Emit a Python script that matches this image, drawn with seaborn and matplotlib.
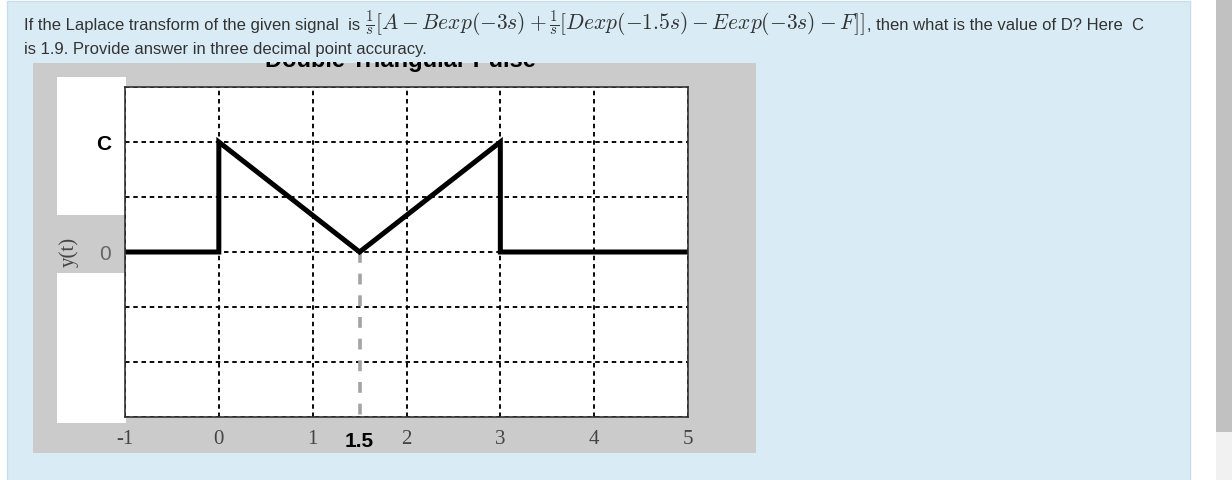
import numpy as np
import matplotlib
matplotlib.use('Agg')
import matplotlib.pyplot as plt
from matplotlib.patches import Rectangle
import seaborn as sns

# Data ------------------------------------------------------------------------------------------------------------
C = 1.9
t_points = [-1, 0, 0, 1.5, 3, 3, 5]
y_points = [0, 0, C, 0, C, 0, 0]
x_ticks = [-1, 0, 1, 2, 3, 4, 5]
y_ticks = [-1.5 * C, -C, -0.5 * C, 0, 0.5 * C, C, 1.5 * C]
y_tick_labels = ['', '', '', '0', '', 'C', '']
mark_t = 1.5
mark_label = '1.5'
title = 'Double Triangular Pulse'
question_parts = ["If the Laplace transform of the given signal  is ",
                  r"$\frac{1}{s}[A-Bexp(-3s)+\frac{1}{s}[Dexp(-1.5s)-Eexp(-3s)-F]]$",
                  ", then what is the value of D? Here  C"]
question_2 = "is 1.9. Provide answer in three decimal point accuracy."

W, H = 1232, 480


def box(x0, y0, x1, y1):
    # pixel box (top-left origin) -> figure fraction rect
    return (x0 / W, 1 - y1 / H), (x1 - x0) / W, (y1 - y0) / H


sns.set_style('white')
plt.rcParams['mathtext.fontset'] = 'cm'
plt.rcParams['axes.unicode_minus'] = False
plt.rcParams['font.family'] = ['Liberation Sans', 'DejaVu Sans']

fig = plt.figure(figsize=(W / 100, H / 100), dpi=100)
fig.patch.set_facecolor('white')
renderer = fig.canvas.get_renderer()

# page background ---------------------------------------------------------------------------------------------------
for (x0, y0, x1, y1), fc, ec, z in [((7, 1, 1190, 481), '#d9ecf5', '#c9dde9', 0.1),
                                     ((1216, 0, 1232, 432), '#c1c1c1', 'none', 0.1),
                                     ((1216, 432, 1232, 480), '#f1f1f1', 'none', 0.1),
                                     ((33, 63, 756, 453), '#cbcbcb', 'none', 0.2),
                                     ((57, 77, 126, 215), 'white', 'none', 1.0),
                                     ((57, 273, 126, 423), 'white', 'none', 1.0),
                                     ((225, 40, 580, 62), '#d9ecf5', 'none', 4.5)]:
    xy, w, h = box(x0, y0, x1, y1)
    fig.patches.append(Rectangle(xy, w, h, transform=fig.transFigure, facecolor=fc,
                                 edgecolor=ec, lw=1, zorder=z))

# question text, laid out piece by piece
x_cur = 24 / W
for part in question_parts:
    is_math = part.startswith('$')
    txt = fig.text(x_cur, 1 - 30 / H, part, fontsize=15.5 if is_math else 12, color='#333333',
                   va='baseline', zorder=5)
    x_cur = txt.get_window_extent(renderer).x1 / W + (2 / W if is_math else 0)
fig.text(24 / W, 1 - 54 / H, question_2, fontsize=12, color='#333333', va='baseline', zorder=5)

# clipped title remnant
fig.text(400 / W, 1 - 67 / H, title, fontsize=17, fontweight='bold', color='black',
         ha='center', va='baseline', zorder=4)

fig.text(69 / W, 1 - 252 / H, 'y(t)', rotation=90, fontsize=15, family='Liberation Serif',
         color='#444444', ha='center', va='center', zorder=0.5)

# plot --------------------------------------------------------------------------------------------------------------
ax = fig.add_axes([125 / W, (480 - 417) / H, (688 - 125) / W, (417 - 87) / H])
ax.set_zorder(3)

sns.lineplot(x=t_points, y=y_points, sort=False, estimator=None, color='black', lw=3.6, ax=ax,
             solid_joinstyle='miter')
ax.plot([mark_t, mark_t], [0, y_ticks[0]], color='#a3a3a3', lw=2.6, dashes=(3, 3), zorder=1)

ax.set_xlim(x_ticks[0], x_ticks[-1])
ax.set_ylim(y_ticks[0], y_ticks[-1])
ax.set_xticks(x_ticks)
ax.set_yticks(y_ticks)
ax.set_yticklabels(y_tick_labels)
ax.grid(True, color='black', lw=1.35, ls=(0, (2.4, 2.0)))
for s in ax.spines.values():
    s.set_color('#333333')
    s.set_linewidth(1.2)

ax.tick_params(axis='x', direction='in', length=4, width=1, pad=9, labelsize=15,
               labelcolor='#444444', labelfontfamily='Liberation Serif')
ax.tick_params(axis='y', direction='in', length=0, pad=10, labelsize=15)
for lab in ax.get_yticklabels():
    if lab.get_text() == 'C':
        lab.set_fontweight('bold')
        lab.set_color('black')
    else:
        lab.set_color('#666666')

ax.annotate(mark_label, xy=(mark_t, 0), xycoords=('data', 'axes fraction'), xytext=(0, -11),
            textcoords='offset points', ha='center', va='top', fontsize=15, fontweight='bold',
            color='black')

fig.savefig('out.png', dpi=100)
